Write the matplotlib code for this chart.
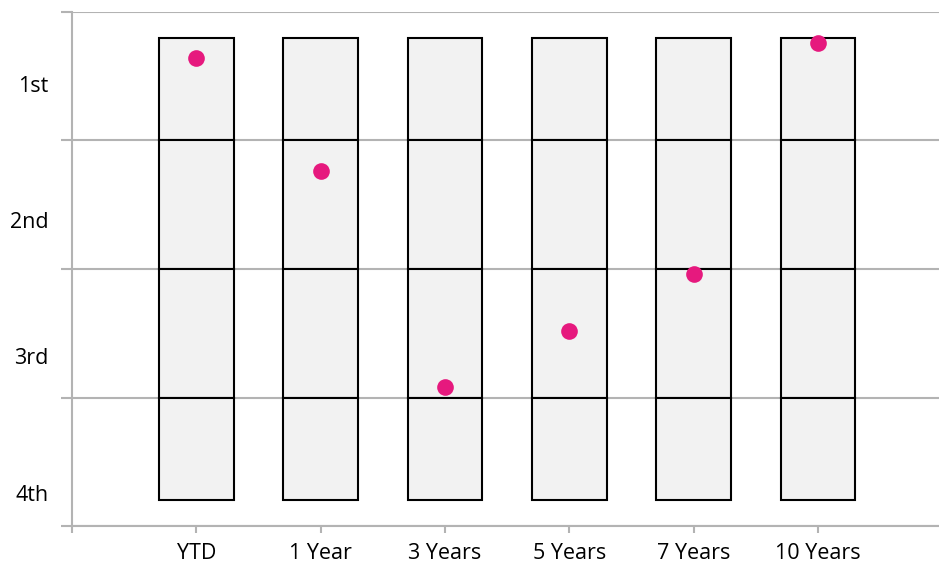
import matplotlib.pyplot as plt
import numpy as np

# Peer-group percentile rank per period (0 = best, 100 = worst)
periods = ["YTD", "1 Year", "3 Years", "5 Years", "7 Years", "10 Years"]
ranks = [9, 31, 73, 62, 51, 6]

# Quartile bands drawn as stacked segments (top and bottom trimmed to 5/95)
band_bottoms = [5, 25, 50, 75]
band_heights = [20, 25, 25, 20]
quartile_labels = ["1st", "2nd", "3rd", "4th"]
quartile_label_pos = [14.4, 40.9, 67.5, 94.0]

plt.rcParams['font.family'] = ['Open Sans', 'DejaVu Sans']

fig = plt.figure(figsize=(9.39, 5.63), dpi=100)
ax = fig.add_axes([0.0767, 0.0657, 0.9233, 0.913])

x = np.arange(1, len(periods) + 1)
grid_col = '#b3b3b3'

for b, h in zip(band_bottoms, band_heights):
    ax.bar(x, h, bottom=b, width=0.6, color='#f2f2f2', edgecolor='black',
           linewidth=1.5, zorder=3)

ax.plot(x, ranks, 'o', color='#e6197e', markersize=12, markeredgewidth=0, zorder=4)

ax.set_xlim(0, 6.975)
ax.set_ylim(100, 0)

ax.set_yticks([0, 25, 50, 75, 100])
ax.set_yticklabels([])
ax.yaxis.grid(True, color=grid_col, linewidth=1.5, zorder=0)
ax.tick_params(axis='y', length=8, width=1.5, color=grid_col)

ax.set_xticks(np.concatenate([[0], x]))
ax.set_xticklabels([""] + periods, fontsize=15.5)
ax.tick_params(axis='x', length=5, width=1.5, color=grid_col, pad=7)

for lab, pos in zip(quartile_labels, quartile_label_pos):
    ax.text(-0.19, pos, lab, ha='right', va='center', fontsize=15.5)

for s in ['top', 'right']:
    ax.spines[s].set_visible(False)
for s in ['left', 'bottom']:
    ax.spines[s].set_color(grid_col)
    ax.spines[s].set_linewidth(1.5)

fig.savefig('out.png', dpi=100)
